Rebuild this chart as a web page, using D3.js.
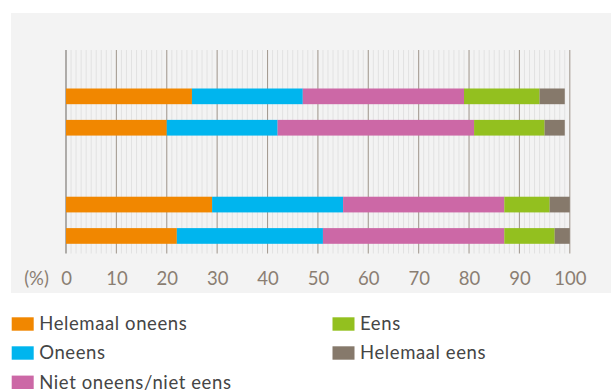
<!DOCTYPE html>
<html>
<head>
<meta charset="utf-8">
<script src="https://cdn.jsdelivr.net/npm/d3@7"></script>
<style>
  html, body { margin: 0; padding: 0; background: #ffffff; }
  svg { display: block; }
</style>
</head>
<body>
<svg id="chart" width="611" height="392"></svg>
<script>
// ---- data ----
const groups = ["Groep 1", "Groep 2"];
const rows = ["Rij A", "Rij B"];
const seriesNames = ["Helemaal oneens", "Oneens", "Niet oneens/niet eens", "Eens", "Helemaal eens"];
const seriesColors = ["#F18700", "#00B5EE", "#CC68A6", "#93C01F", "#86796B"];
const helemaalOneens = [25, 20, 29, 22];
const oneens = [22, 22, 26, 29];
const nietOneensNietEens = [32, 39, 32, 36];
const eens = [15, 14, 9, 10];
const helemaalEens = [5, 4, 4, 3];
const xTicks = [0, 10, 20, 30, 40, 50, 60, 70, 80, 90, 100];
const unitLabel = "(%)";

const seriesValues = [helemaalOneens, oneens, nietOneensNietEens, eens, helemaalEens];

// build records
const records = [];
groups.forEach((g, gi) => {
  rows.forEach((r, ri) => {
    const idx = gi * rows.length + ri;
    const rec = { group: g, row: r };
    seriesNames.forEach((s, si) => { rec[s] = seriesValues[si][idx]; });
    records.push(rec);
  });
});

const svg = d3.select("#chart");

// background panel
svg.append("rect").attr("x", 11).attr("y", 13).attr("width", 600).attr("height", 280).attr("fill", "#F3F3F3");

const x = d3.scaleLinear().domain([0, 100]).range([66, 569.8]);
const gridTop = 50, gridBottom = 253.5;

const yOuter = d3.scaleBand().domain(groups).range([88.5, 243.8]).paddingInner(0.565).paddingOuter(0);
const yInner = d3.scaleBand().domain(rows).range([0, yOuter.bandwidth()]).paddingInner(0.5).paddingOuter(0);

// minor grid
const minor = d3.range(1, 100).filter(v => v % 10 !== 0);
svg.append("g").selectAll("line").data(minor).join("line")
  .attr("x1", d => x(d)).attr("x2", d => x(d))
  .attr("y1", gridTop).attr("y2", gridBottom)
  .attr("stroke", "#E2E2E2").attr("stroke-width", 1);

// major grid
svg.append("g").selectAll("line").data(xTicks).join("line")
  .attr("x1", d => x(d)).attr("x2", d => x(d))
  .attr("y1", gridTop).attr("y2", gridBottom)
  .attr("stroke", d => d === 0 ? "#75706B" : "#A59C93").attr("stroke-width", 1.1);

// stacked bars
const stack = d3.stack().keys(seriesNames);
const stacked = stack(records);
const color = d3.scaleOrdinal().domain(seriesNames).range(seriesColors);

svg.append("g").selectAll("g").data(stacked).join("g")
  .attr("fill", d => color(d.key))
  .selectAll("rect").data(d => d).join("rect")
  .attr("x", d => x(d[0]))
  .attr("width", d => x(d[1]) - x(d[0]))
  .attr("y", d => yOuter(d.data.group) + yInner(d.data.row))
  .attr("height", yInner.bandwidth());

// x axis labels
const axis = d3.axisBottom(x).tickValues(xTicks).tickSize(0).tickPadding(0);
const ax = svg.append("g").attr("transform", `translate(0,${gridBottom})`).call(axis);
ax.select(".domain").remove();
ax.selectAll("text")
  .attr("y", 26).attr("dy", "0.32em")
  .attr("font-family", "Lato, 'Open Sans', sans-serif")
  .attr("font-size", 18.5)
  .attr("fill", "#8A7E72");

svg.append("text").attr("x", 36.5).attr("y", 279).attr("dy", "0.32em")
  .attr("text-anchor", "middle")
  .attr("font-family", "Lato, 'Open Sans', sans-serif")
  .attr("font-size", 18.5).attr("fill", "#8A7E72").text(unitLabel);

// legend
const legendCols = [11.7, 332.5];
const legendRows = [324, 353, 382.3];
const legendPos = [[0,0],[0,1],[0,2],[1,0],[1,1]];
const lg = svg.append("g").selectAll("g").data(seriesNames).join("g")
  .attr("transform", (d, i) => `translate(${legendCols[legendPos[i][0]]},${legendRows[legendPos[i][1]]})`);
lg.append("rect").attr("x", 0).attr("y", -6.7).attr("width", 22).attr("height", 13.4).attr("fill", d => color(d));
lg.append("text").attr("x", 27.5).attr("y", 0).attr("dy", "0.35em")
  .attr("font-family", "Lato, 'Open Sans', sans-serif")
  .attr("letter-spacing", "0.6px")
  .attr("font-size", 18.5).attr("fill", "#454545").text(d => d);
</script>
</body>
</html>
